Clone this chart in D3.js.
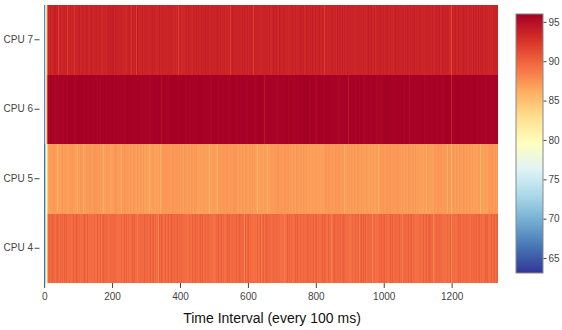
<!DOCTYPE html>
<html>
<head>
<meta charset="utf-8">
<script src="https://cdn.jsdelivr.net/npm/d3@7"></script>
<style>
  body { margin: 0; background: #fff; }
  svg { font-family: "Open Sans", verdana, arial, sans-serif; }
  .tick text { fill: #444; font-size: 10px; }
  .tick line { stroke: #444; }
</style>
</head>
<body>
<svg id="chart" width="562" height="330"></svg>
<script>
// CPU load per 100 ms sample.
// first samples are written out, the rest is one digit per sample (index into the row's levels)
const cpus = ["CPU 4", "CPU 5", "CPU 6", "CPU 7"];
const xTicks = [0, 200, 400, 600, 800, 1000, 1200];
const cbTicks = [65, 70, 75, 80, 85, 90, 95];
const zMin = 63.1;
const zMax = 96;

const cpu7Head = [65.5, 67.5, 70, 72.5, 75, 78, 80.5, 83, 85.5, 88, 90, 91.5];
const cpu7Levels = [90.5, 91, 91.5, 92, 92.5, 93, 93.3, 93.6, 94, 94.5];
const cpu7Body = [
  "7768677857 6786377687 7867767768 3677867786 7768578676 8767767386 7767867768 6778676478 7686777867 6787763778",
  "7867767687 7768467786 7687767867 7786377687 6778677768 7867758677 6787767387 7768677867 7678677768 4787767687",
  "6778767786 7687367787 7768677867 6787767768 7867747687 7768677868 3778677687 7867767786 7687567787 7768677863",
  "7786776867 6787767386 7867767786 7687767687 7768577867 6787767768 7867767486 7768677867 6787367787 7867767768",
  "7687767786 6778677867 7867457687 7768677867 6787767768 7867763786 7768677867 6787767768 3867767786 7687767687",
  "7768677867 6787567787 7867767768 7687767386 7768677867 6787767768 7867767786 4687767687 7768677867 6787767788",
  "7867367786 7687767687 7768677867 6787767768 7867757786 7687767687 7768637867 6787767768 7867767786 7687467687",
  "7768677867 6787767768 3867767786 7687767687 7768677867 6787757768 7867767786 7687767687 7768677847 6787767768",
  "7867767786 7687367687 7768677867 6787767768 7867767786 7687767587 7768677867 6787767768 4867767786 7687767687",
  "7768677867 6787767768 7867767386 7687767687 7768677867 6787767768 7867567786 7687767687 7768677867 6787467768",
  "7867767786 7687767687 7768677867 6787767768 7867767786 7687367687 7768677867 6787767768 7867767786 7687767587",
  "7768677867 6787767768 7867767786 4687767687 7768677867 6787767768 7867767786 7687767687 7867767720 6787767768",
  "7867767786 7687767687 7768677867 6787767768 7867767786 7687767687 7768677867 6787767768 7867767786 7687767687",
  "7768677867 6787767768 78677"
];

const cpu6Head = [65.5, 67.5, 70, 72.5, 75, 78, 81, 84, 87, 90, 92, 94];
const cpu6Levels = [92.5, 93, 93.5, 94, 94.5, 95, 95.3, 95.6, 95.8, 96];
const cpu6Body = [
  "8898788978 9887898879 8798898898 7898878598 8988979889 8898898798 9889878898 8979889889 7898898879 8898798898",
  "8979889878 9889878598 8898989879 8798898898 9889878898 8898798979 8898899878 9878898898 8798989889 8898878598",
  "9889898879 8898798898 8979889878 9889489898 8898988798 7898898879 8898798898 9889879889 8898898578 9889898879",
  "8798898898 8979889878 9889898898 8898598798 7898898879 8898798898 9879889889 8898898798 9889898879 8798498898",
  "8979889878 9889898898 8898988798 7898898879 8898598898 9889879889 8898898798 9889898879 8798898898 8979889878",
  "9889898898 8898388798 7898898879 8898798898 9889879889 8898898798 9889598879 8798898898 8979889878 9889898898",
  "8898988798 7898898879 8898798898 9889879489 8898898798 9889898879 8798898898 8979589878 9889898898 8898988798",
  "7898898879 8898798898 9889879889 8898898798 9889898879 8798898398 8979889878 9889898898 8898988798 7898898879",
  "8898798898 9889879889 8898598798 9889898879 8798898898 8979889878 9889898898 8898988798 7898498879 8898798898",
  "9889879889 8898898798 9889898879 8798898898 8979889578 9889898898 8898988798 7898898879 8898798898 9889879889",
  "8898898798 9889898879 8798898898 8979889878 9889898898 8898988798 7898598879 8898798898 9889879889 8898898798",
  "9889898879 8798898898 8979889878 9889898898 8898988798 7898898879 8898798898 9889879889 8898898730 9889898879",
  "8798898898 8979889878 9889898898 8898988798 7898898879 8898798898 9889879889 8898898798 9889898879 8798898898",
  "8979889878 9889898898 88989"
];

const cpu5Head = [64.5, 66, 68, 70.5, 73, 75.5, 77.5, 79.5, 81, 82.5, 84, 85.5];
const cpu5Levels = [84.5, 85, 85.5, 86, 86.4, 86.8, 87.1, 87.4, 87.8, 88.3];
const cpu5Body = [
  "6576563675 5676265765 6657567362 5765675676 6573656765 7656626576 5676567365 6756576626 5765673656 7656576562",
  "6765365676 5657626576 5765675636 6576567657 2676567365 6756576765 5663656765 6576567657 6765265676 5657673576",
  "5765675676 6576563657 6765675676 5627656765 6576567657 6735675676 5657656765 6576263657 6765675676 5657656735",
  "6576567657 6765625676 5657656765 6376567657 6765675676 5657652765 6576567637 6765675676 5657656765 6576267657",
  "6765675636 5657656765 6576567657 6762675676 5657656765 6576537657 6765675676 5657626765 6576567657 6765675636",
  "5657656765 6576567657 6765275676 5657656765 6576567357 6765675676 5657656265 6576567657 6765675676 5357656765",
  "6576567657 6765672676 5657656765 6576567657 6765673676 5657656765 6576526657 6765675676 5657656765 6576367657",
  "6765675676 5657626765 6576567657 6765675636 5657656765 6576567257 6765675676 5657656763 6576567657 6765625676",
  "5657656765 6576567657 6765675376 5657656765 6576567627 6765675676 5657656765 6536567657 6765675676 5657626765",
  "6576567657 6765675676 5657653765 6576567657 6765625676 5657656765 6576567657 6763675676 5657656765 6576267657",
  "6765675676 5657656735 6576567657 6765675676 5627656765 6576567657 6765675636 5657656765 6576567657 6765275676",
  "5657656765 6576367657 6765675676 5657656765 6576567627 6765675676 5657656765 6576563657 6765675610 5657656765",
  "6576567657 6765675676 5657626765 6576567657 6765675376 5657656765 6576567657 6762675676 5657656765 6576567637",
  "6765675676 5657656765 65765"
];

const cpu4Head = [64.5, 66, 68, 70.5, 73, 75.5, 78, 80, 82, 84, 86, 87.5];
const cpu4Levels = [87.3, 87.8, 88.2, 88.6, 89, 89.3, 89.6, 89.9, 90.3, 90.8];
const cpu4Body = [
  "5675867565 7658567375 6586756857 6575868565 7586357686 5675867565 6857586756 3675867565 7658567586 5678657565",
  "7586756857 6575838565 7586567686 5675867565 6857586756 8675867365 7658567586 5675867565 6857586756 8675267565",
  "7658567586 5675867565 6857386756 8675867565 7658567386 5675867565 6853586756 8675867565 7658567386 5675867565",
  "6857586756 8675867565 7658527586 5675867565 6857586756 8675863565 7658567586 5675867565 6857586736 8675867565",
  "7658567586 5675267565 6857586756 8675867565 7658567586 5675867535 6857586756 8675867565 7652567586 5675867565",
  "6857586756 8675867565 7658567586 5673867565 6857586756 8675867565 7658567586 5675867525 6857586756 8675867565",
  "7658567586 5675867565 6857586736 8675867565 7658567586 5675867565 6857526756 8675867565 7658567586 5675863565",
  "6857586756 8675867565 7658567586 5675827565 6857586756 8675867565 7658567386 5675867565 6857586756 8675867525",
  "7658567586 5675867565 6857586756 8675367565 7658567586 5675867565 6857586756 8675867565 7658527586 5675867565",
  "6857586756 8675867365 7658567586 5675867565 6857586756 8675827565 7658567586 5675867565 6857586756 8675867535",
  "7658567586 5675867565 6857586756 8675867565 7652567586 5675867565 6857586756 8675867365 7658567586 5675867565",
  "6857586756 8675867565 7658567586 5675827565 6857586756 8675867565 7658567586 5675867565 6857586710 8675867565",
  "7658567586 5675867565 6857586756 8673867565 7658567586 5675867565 6857586756 8675867565 7658567586 5675863565",
  "6857586756 8675867565 76585"
];

// RdYlBu, reversed (blue low, red high)
const colors = ["#313695", "#4575b4", "#74add1", "#abd9e9", "#e0f3f8", "#ffffbf",
  "#fee090", "#fdae61", "#f46d43", "#d73027", "#a50026"];

const decode = (head, body, levels) =>
  head.concat(body.join("").replace(/\s/g, "").split("").map((c) => levels[+c]));

const rows = [
  { cpu: "CPU 4", values: decode(cpu4Head, cpu4Body, cpu4Levels) },
  { cpu: "CPU 5", values: decode(cpu5Head, cpu5Body, cpu5Levels) },
  { cpu: "CPU 6", values: decode(cpu6Head, cpu6Body, cpu6Levels) },
  { cpu: "CPU 7", values: decode(cpu7Head, cpu7Body, cpu7Levels) },
];

const cells = rows.flatMap((r) => r.values.map((v, i) => ({ cpu: r.cpu, t: i, v })));
const n = d3.max(rows, (r) => r.values.length);

const svg = d3.select("#chart");
const plotLeft = 44, plotTop = 5, plotRight = 498, plotBottom = 283;

const xScale = d3.scaleLinear().domain([-0.5, n - 0.5]).range([plotLeft, plotRight]);
const yScale = d3.scaleBand().domain(cpus).range([plotBottom, plotTop]);
const color = d3.scaleLinear()
  .domain(colors.map((c, i) => zMin + (i / (colors.length - 1)) * (zMax - zMin)))
  .range(colors)
  .clamp(true);

const step = xScale(1) - xScale(0);

svg.append("g")
  .attr("shape-rendering", "crispEdges")
  .selectAll("rect")
  .data(cells)
  .join("rect")
  .attr("x", (d) => xScale(d.t - 0.5))
  .attr("y", (d) => yScale(d.cpu))
  .attr("width", (d) => Math.min(step + 1, plotRight - xScale(d.t - 0.5)))
  .attr("height", yScale.bandwidth())
  .attr("fill", (d) => color(d.v));

const xAxis = svg.append("g")
  .attr("transform", `translate(0, ${plotBottom})`)
  .call(d3.axisBottom(xScale).tickValues(xTicks).tickFormat(d3.format("d")).tickSize(5).tickPadding(5));
xAxis.select(".domain").remove();

const yAxis = svg.append("g")
  .attr("transform", `translate(${plotLeft - 4.5}, 0)`)
  .call(d3.axisLeft(yScale).tickSize(5).tickPadding(1.5));
yAxis.select(".domain").remove();

svg.append("text")
  .attr("x", 272)
  .attr("y", 323)
  .attr("text-anchor", "middle")
  .attr("fill", "#111")
  .style("font-family", "'Liberation Sans', Arial, sans-serif")
  .style("font-size", "14px")
  .text("Time Interval (every 100 ms)");

// colorbar
const cbX = 516, cbW = 27, cbTop = 14, cbBottom = 273;
const cbScale = d3.scaleLinear().domain([zMin, zMax]).range([cbBottom, cbTop]);

const grad = svg.append("defs").append("linearGradient")
  .attr("id", "cb")
  .attr("x1", 0).attr("y1", 1).attr("x2", 0).attr("y2", 0);
grad.selectAll("stop")
  .data(colors)
  .join("stop")
  .attr("offset", (d, i) => `${(i / (colors.length - 1)) * 100}%`)
  .attr("stop-color", (d) => d);

svg.append("rect")
  .attr("x", cbX)
  .attr("y", cbTop)
  .attr("width", cbW)
  .attr("height", cbBottom - cbTop)
  .attr("fill", "url(#cb)")
  .attr("stroke", "#888")
  .attr("stroke-width", 1);

const cbAxis = svg.append("g")
  .attr("transform", `translate(${cbX + cbW + 0.5}, 0)`)
  .call(d3.axisRight(cbScale).tickValues(cbTicks).tickSize(3).tickPadding(2));
cbAxis.select(".domain").remove();
</script>
</body>
</html>
